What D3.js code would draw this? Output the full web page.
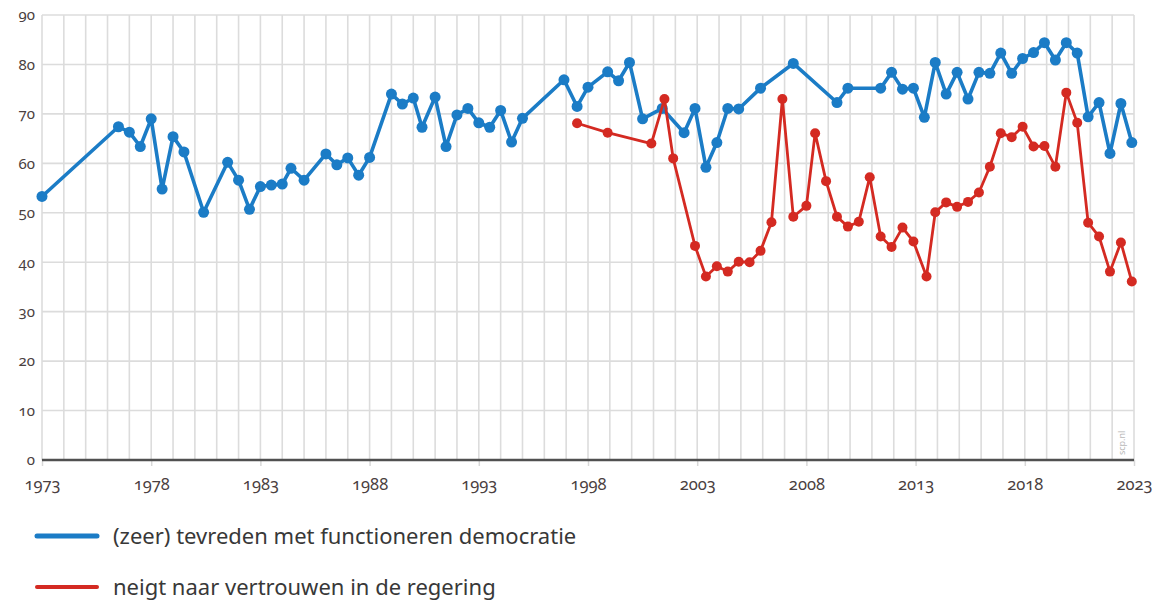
<!DOCTYPE html>
<html>
<head>
<meta charset="utf-8">
<script src="https://cdn.jsdelivr.net/npm/d3@7"></script>
<style>
  html, body { margin: 0; padding: 0; background: #ffffff; }
  svg { display: block; }
  .tick text { font-family: "Noto Sans", "Open Sans", sans-serif; font-variant-numeric: oldstyle-nums; font-feature-settings: "onum" 1; }
</style>
</head>
<body>
<svg id="chart" width="1166" height="603"></svg>
<script>
const blueYears = [1973.0,1976.5,1977.0,1977.5,1978.0,1978.5,1979.0,1979.5,1980.4,1981.5,1982.0,1982.5,1983.0,1983.5,1984.0,1984.4,1985.0,1986.0,1986.5,1987.0,1987.5,1988.0,1989.0,1989.5,1990.0,1990.4,1991.0,1991.5,1992.0,1992.5,1993.0,1993.5,1994.0,1994.5,1995.0,1996.9,1997.5,1998.0,1998.9,1999.4,1999.9,2000.5,2001.4,2002.4,2002.9,2003.4,2003.9,2004.4,2004.9,2005.9,2007.4,2009.4,2009.9,2011.4,2011.9,2012.4,2012.9,2013.4,2013.9,2014.4,2014.9,2015.4,2015.9,2016.4,2016.9,2017.4,2017.9,2018.4,2018.9,2019.4,2019.9,2020.4,2020.9,2021.4,2021.9,2022.4,2022.9];
const blueValues = [53.3,67.4,66.3,63.4,69.0,54.8,65.4,62.3,50.1,60.2,56.6,50.7,55.3,55.6,55.8,59.0,56.6,61.9,59.7,61.1,57.6,61.2,74.0,72.0,73.2,67.3,73.4,63.4,69.8,71.1,68.2,67.3,70.7,64.3,69.1,76.9,71.5,75.4,78.5,76.7,80.4,69.0,71.1,66.2,71.1,59.2,64.2,71.1,71.0,75.2,80.2,72.3,75.2,75.2,78.4,75.0,75.2,69.3,80.4,74.0,78.4,73.0,78.4,78.2,82.3,78.2,81.2,82.4,84.4,80.9,84.4,82.3,69.4,72.3,62.0,72.1,64.2];

const redYears = [1997.5,1998.9,2000.9,2001.5,2001.9,2002.9,2003.4,2003.9,2004.4,2004.9,2005.4,2005.9,2006.4,2006.9,2007.4,2008.0,2008.4,2008.9,2009.4,2009.9,2010.4,2010.9,2011.4,2011.9,2012.4,2012.9,2013.5,2013.9,2014.4,2014.9,2015.4,2015.9,2016.4,2016.9,2017.4,2017.9,2018.4,2018.9,2019.4,2019.9,2020.4,2020.9,2021.4,2021.9,2022.4,2022.9];
const redValues = [68.1,66.2,64.0,73.0,61.0,43.3,37.1,39.2,38.1,40.1,40.0,42.3,48.1,73.0,49.2,51.4,66.1,56.4,49.2,47.2,48.2,57.2,45.2,43.1,47.0,44.2,37.1,50.1,52.1,51.2,52.2,54.1,59.3,66.1,65.3,67.4,63.4,63.5,59.3,74.3,68.2,48.0,45.2,38.1,44.0,36.1];

const xTickYears = [1973,1978,1983,1988,1993,1998,2003,2008,2013,2018,2023];
const yTicks = [0,10,20,30,40,50,60,70,80,90];
const seriesNames = ["(zeer) tevreden met functioneren democratie", "neigt naar vertrouwen in de regering"];
const seriesColors = ["#1b7cc6", "#d42a22"];

const svg = d3.select("#chart");
svg.append("rect").attr("width",1166).attr("height",603).attr("fill","#ffffff");

const x = d3.scaleLinear().domain([1973, 2023]).range([42, 1134]);
const y = d3.scaleLinear().domain([0, 90]).range([460, 15]);

// gridlines
const grid = svg.append("g");
grid.selectAll("line.v").data(d3.range(1973, 2024)).join("line")
  .attr("x1", d => x(d)).attr("x2", d => x(d))
  .attr("y1", y(90)).attr("y2", y(0))
  .attr("stroke", "#dcdcdc").attr("stroke-width", 1.6);
grid.selectAll("line.h").data(yTicks.filter(d => d > 0)).join("line")
  .attr("x1", x(1973)).attr("x2", x(2023))
  .attr("y1", d => y(d)).attr("y2", d => y(d))
  .attr("stroke", "#dcdcdc").attr("stroke-width", 1.6);

// x axis
const xAxis = svg.append("g").attr("transform", `translate(0,${y(0)})`)
  .call(d3.axisBottom(x).tickValues(xTickYears).tickFormat(d3.format("d")).tickSize(6).tickPadding(12));
xAxis.select(".domain").remove();
xAxis.selectAll(".tick line").attr("stroke", "#d8d8d8").attr("stroke-width", 1.5);
xAxis.selectAll(".tick text").attr("fill", "#4a4040").attr("font-size", 16.5);

// y axis
const yAxis = svg.append("g").attr("transform", `translate(${x(1973)},0)`)
  .call(d3.axisLeft(y).tickValues(yTicks).tickSize(0).tickPadding(7));
yAxis.select(".domain").remove();
yAxis.selectAll(".tick text").attr("fill", "#4a4040").attr("font-size", 15);

// baseline
svg.append("line")
  .attr("x1", x(1973)).attr("x2", x(2023)).attr("y1", y(0)).attr("y2", y(0))
  .attr("stroke", "#505050").attr("stroke-width", 2.4);

// watermark
svg.append("text")
  .attr("transform", `translate(${x(2022.6)},${y(1)}) rotate(-90)`)
  .attr("font-family", "Noto Sans, sans-serif").attr("font-size", 9)
  .attr("fill", "#b8b8b8").text("scp.nl");

const line = d3.line().x(d => x(d[0])).y(d => y(d[1]));
const blue = blueYears.map((yr, i) => [yr, blueValues[i]]);
const red = redYears.map((yr, i) => [yr, redValues[i]]);

[[blue, seriesColors[0], 3.6, 5.5], [red, seriesColors[1], 2.8, 5]].forEach(([data, col, w, r]) => {
  svg.append("path").datum(data).attr("d", line)
    .attr("fill", "none").attr("stroke", col).attr("stroke-width", w)
    .attr("stroke-linejoin", "round");
  svg.append("g").selectAll("circle").data(data).join("circle")
    .attr("cx", d => x(d[0])).attr("cy", d => y(d[1])).attr("r", r).attr("fill", col);
});

// legend
const legend = svg.append("g");
seriesNames.forEach((name, i) => {
  const ly = 536 + i * 51;
  legend.append("line").attr("x1", 37).attr("x2", 97).attr("y1", ly).attr("y2", ly)
    .attr("stroke", seriesColors[i]).attr("stroke-width", i === 0 ? 5 : 4).attr("stroke-linecap", "round");
  legend.append("text").attr("x", 113).attr("y", ly).attr("dy", "0.35em")
    .attr("font-family", "Noto Sans, sans-serif").attr("font-size", 22)
    .attr("fill", "#383838").text(name);
});
</script>
</body>
</html>
